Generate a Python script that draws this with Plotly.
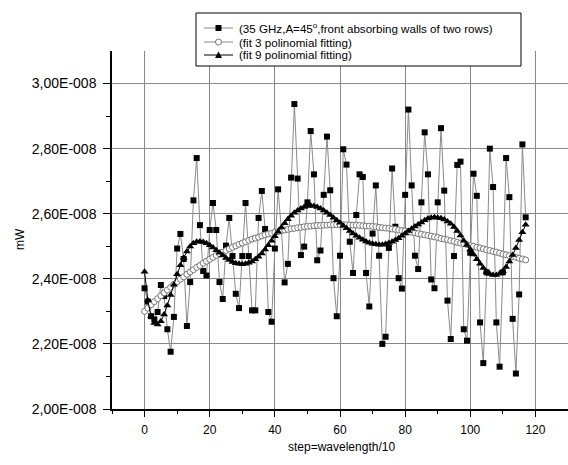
import plotly.graph_objects as go

# x: step index (step = wavelength/10)
steps = list(range(118))

# measured power, units of 1e-8 mW
measured = [2.371, 2.330, 2.285, 2.275, 2.298, 2.381, 2.347, 2.245, 2.176, 2.283,
            2.493, 2.538, 2.461, 2.255, 2.390, 2.641, 2.771, 2.565, 2.424, 2.410,
            2.550, 2.633, 2.550, 2.390, 2.338, 2.502, 2.587, 2.470, 2.354, 2.310,
            2.470, 2.633, 2.470, 2.303, 2.303, 2.587, 2.670, 2.553, 2.298, 2.268,
            2.493, 2.675, 2.550, 2.389, 2.446, 2.711, 2.937, 2.708, 2.473, 2.499,
            2.635, 2.854, 2.721, 2.457, 2.487, 2.658, 2.837, 2.672, 2.402, 2.285,
            2.471, 2.798, 2.751, 2.514, 2.418, 2.596, 2.721, 2.713, 2.418, 2.315,
            2.539, 2.687, 2.471, 2.200, 2.222, 2.495, 2.739, 2.560, 2.402, 2.370,
            2.658, 2.920, 2.687, 2.471, 2.430, 2.635, 2.850, 2.721, 2.398, 2.371,
            2.635, 2.863, 2.671, 2.333, 2.215, 2.470, 2.750, 2.760, 2.245, 2.210,
            2.480, 2.723, 2.655, 2.266, 2.141, 2.420, 2.800, 2.682, 2.266, 2.130,
            2.420, 2.771, 2.651, 2.277, 2.109, 2.352, 2.813, 2.589]

fit3 = [2.300, 2.310, 2.320, 2.330, 2.339, 2.348, 2.357, 2.366, 2.374, 2.383,
        2.391, 2.399, 2.406, 2.414, 2.421, 2.428, 2.435, 2.441, 2.448, 2.454,
        2.460, 2.466, 2.472, 2.477, 2.482, 2.487, 2.492, 2.497, 2.501, 2.506,
        2.510, 2.514, 2.518, 2.522, 2.525, 2.528, 2.532, 2.535, 2.538, 2.540,
        2.543, 2.545, 2.548, 2.550, 2.552, 2.554, 2.555, 2.557, 2.558, 2.560,
        2.561, 2.562, 2.563, 2.564, 2.564, 2.565, 2.565, 2.566, 2.566, 2.566,
        2.566, 2.566, 2.566, 2.565, 2.565, 2.565, 2.564, 2.563, 2.562, 2.562,
        2.561, 2.560, 2.558, 2.557, 2.556, 2.555, 2.553, 2.552, 2.550, 2.548,
        2.547, 2.545, 2.543, 2.541, 2.539, 2.537, 2.535, 2.533, 2.531, 2.529,
        2.527, 2.524, 2.522, 2.520, 2.517, 2.515, 2.512, 2.510, 2.508, 2.505,
        2.502, 2.500, 2.497, 2.495, 2.492, 2.489, 2.487, 2.484, 2.482, 2.479,
        2.476, 2.474, 2.471, 2.468, 2.466, 2.463, 2.461, 2.458]

fit9 = [2.422, 2.334, 2.285, 2.264, 2.260, 2.270, 2.290, 2.318, 2.350, 2.382,
        2.414, 2.442, 2.465, 2.484, 2.499, 2.509, 2.514, 2.515, 2.513, 2.509,
        2.503, 2.496, 2.488, 2.480, 2.472, 2.464, 2.458, 2.452, 2.448, 2.446,
        2.445, 2.446, 2.449, 2.453, 2.460, 2.468, 2.478, 2.490, 2.503, 2.517,
        2.531, 2.545, 2.558, 2.571, 2.583, 2.594, 2.603, 2.610, 2.616, 2.621,
        2.624, 2.625, 2.624, 2.621, 2.616, 2.610, 2.603, 2.596, 2.588, 2.580,
        2.572, 2.563, 2.555, 2.547, 2.539, 2.532, 2.526, 2.520, 2.515, 2.511,
        2.508, 2.506, 2.505, 2.505, 2.507, 2.510, 2.514, 2.519, 2.525, 2.532,
        2.539, 2.547, 2.554, 2.561, 2.567, 2.573, 2.580, 2.585, 2.588, 2.589,
        2.588, 2.586, 2.582, 2.576, 2.569, 2.559, 2.547, 2.533, 2.517, 2.504,
        2.490, 2.475, 2.460, 2.446, 2.433, 2.422, 2.415, 2.412, 2.412, 2.416,
        2.423, 2.436, 2.453, 2.473, 2.495, 2.519, 2.543, 2.566]

y_ticks = [2.0, 2.2, 2.4, 2.6, 2.8, 3.0]
y_labels = ["2,00E-008", "2,20E-008", "2,40E-008", "2,60E-008", "2,80E-008", "3,00E-008"]
x_ticks = [0, 20, 40, 60, 80, 100, 120]

names = ["(35 GHz,A=45<sup>o</sup>,front absorbing walls of two rows)",
         "(fit 3 polinomial fitting)",
         "(fit 9 polinomial fitting)"]

FONT = "Arial, Liberation Sans, sans-serif"
W, H = 568, 465
L, R, T, B = 112, 0, 51, 56
pw = W - L - R
ph = H - T - B


def px(xp):
    return (xp - L) / pw


def py(yp):
    return 1 - (yp - T) / ph


fig = go.Figure()
fig.add_trace(go.Scatter(x=steps, y=measured, mode="lines+markers", name=names[0],
                         line=dict(color="#8a8a8a", width=1),
                         marker=dict(symbol="square", size=6, color="black")))
fig.add_trace(go.Scatter(x=steps, y=fit3, mode="lines+markers", name=names[1],
                         line=dict(color="#8a8a8a", width=1),
                         marker=dict(symbol="circle", size=6, color="white",
                                     line=dict(color="#777777", width=1))))
fig.add_trace(go.Scatter(x=steps, y=fit9, mode="lines+markers", name=names[2],
                         line=dict(color="black", width=1),
                         marker=dict(symbol="triangle-up", size=7, color="black")))

fig.update_layout(
    width=W, height=H,
    margin=dict(l=L, r=R, t=T, b=B, pad=0),
    paper_bgcolor="white", plot_bgcolor="white",
    font=dict(family=FONT, size=12, color="black"),
    showlegend=False,
    xaxis=dict(range=[-10, 130], tickvals=x_ticks, ticks="outside", ticklen=6,
               tickwidth=1, tickcolor="black", showline=True, linecolor="black",
               linewidth=1.5, showgrid=True, gridcolor="#888888", gridwidth=1,
               zeroline=False, tickfont=dict(size=12), ticklabelstandoff=3,
               minor=dict(tickvals=[-10, 10, 30, 50, 70, 90, 110, 130], ticks="outside",
                          ticklen=3, tickcolor="black", showgrid=False)),
    yaxis=dict(range=[2.0, 3.1], tickvals=y_ticks, ticktext=y_labels, ticks="outside",
               ticklen=7, tickwidth=1, tickcolor="black", showline=True,
               linecolor="black", linewidth=1.5, showgrid=True, gridcolor="#888888",
               gridwidth=1, zeroline=False, tickfont=dict(size=14), ticklabelstandoff=4,
               minor=dict(tickvals=[2.1, 2.3, 2.5, 2.7, 2.9], ticks="outside",
                          ticklen=4, tickcolor="black", showgrid=False)),
)

# legend box (drawn by hand for exact spacing)
box = dict(x0=196, x1=521, y0=13, y1=66)
fig.add_shape(type="rect", xref="paper", yref="paper", x0=px(box["x0"]), x1=px(box["x1"]),
              y0=py(box["y1"]), y1=py(box["y0"]), line=dict(color="black", width=1),
              fillcolor="white", layer="above")
rows = [28, 42, 55]
sx0, sx1, sxc, tx = 204, 233, 218.5, 237
line_cols = ["#8a8a8a", "#8a8a8a", "black"]
for r, nm, lc in zip(rows, names, line_cols):
    fig.add_shape(type="line", xref="paper", yref="paper", x0=px(sx0), x1=px(sx1),
                  y0=py(r), y1=py(r), line=dict(color=lc, width=1), layer="above")
    fig.add_annotation(text=nm, xref="paper", yref="paper", x=px(tx), y=py(r),
                       xanchor="left", yanchor="middle", showarrow=False,
                       font=dict(size=11.6, family=FONT))
# legend sample markers
fig.add_shape(type="rect", xref="paper", yref="paper", x0=px(sxc - 3), x1=px(sxc + 3),
              y0=py(rows[0] + 3), y1=py(rows[0] - 3), fillcolor="black",
              line=dict(width=0), layer="above")
fig.add_shape(type="circle", xref="paper", yref="paper", x0=px(sxc - 3), x1=px(sxc + 3),
              y0=py(rows[1] + 3), y1=py(rows[1] - 3), fillcolor="white",
              line=dict(color="#777777", width=1), layer="above")
tri = "M {a},{b} L {c},{d} L {e},{f} Z".format(
    a=px(sxc - 3.5), b=py(rows[2] + 3), c=px(sxc + 3.5), d=py(rows[2] + 3),
    e=px(sxc), f=py(rows[2] - 3.5))
fig.add_shape(type="path", xref="paper", yref="paper", path=tri, fillcolor="black",
              line=dict(width=0), layer="above")

fig.add_annotation(text="mW", xref="paper", yref="paper", x=px(20), y=py(239),
                   showarrow=False, textangle=-90, font=dict(size=12, family=FONT),
                   xanchor="center", yanchor="middle")
fig.add_annotation(text="step=wavelength/10", xref="paper", yref="paper",
                   x=px(341), y=py(447), showarrow=False,
                   font=dict(size=12, family=FONT), xanchor="center", yanchor="middle")

fig.write_html("out.html", config={"displayModeBar": False},
               post_script="document.body.style.margin='0';")
